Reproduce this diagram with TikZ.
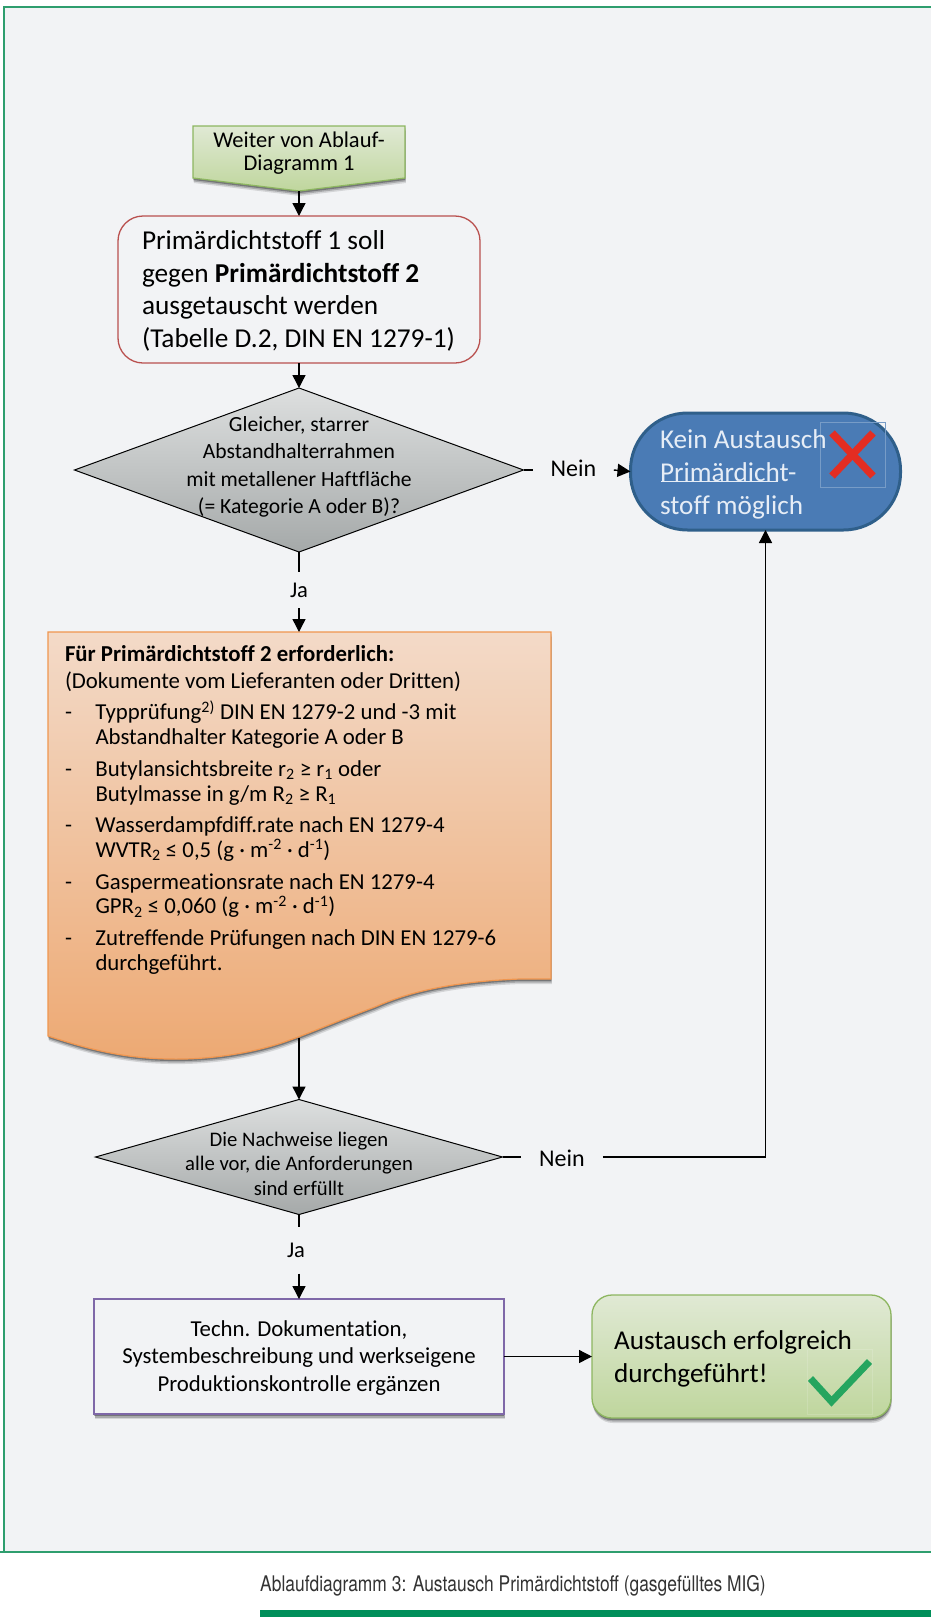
\documentclass[tikz,border=0pt]{standalone}
\usepackage{fontspec}
\setmainfont[Ligatures=NoCommon]{Carlito}
\newfontfamily\captionfont[FakeStretch=0.81]{TeX Gyre Heros}
\usetikzlibrary{arrows.meta,shapes.geometric,shadows}
\definecolor{panel}{HTML}{F2F3F5}
\definecolor{frameG}{HTML}{2E9E6E}
\definecolor{barG}{HTML}{008F5A}
\definecolor{blueF}{HTML}{4A7BB5}
\definecolor{blueD}{HTML}{2F5F8A}
\definecolor{blueT}{HTML}{E6EDF6}
\definecolor{redB}{HTML}{B9504E}
\definecolor{purpleB}{HTML}{7F68A8}
\definecolor{greenB}{HTML}{8DB660}
\definecolor{orangeB}{HTML}{F0964F}
\definecolor{gray1}{HTML}{DDDFDF}
\definecolor{gray2}{HTML}{A5A9A9}
\definecolor{greenT}{HTML}{E0E9D4}
\definecolor{greenM}{HTML}{BFD69D}
\definecolor{orangeT}{HTML}{F3DAC8}
\definecolor{orangeM}{HTML}{EDA973}
\tikzset{
  softshadow/.style={
    general shadow={fill=black,opacity=.12,shadow xshift=.8pt,shadow yshift=-5pt},
    general shadow={fill=black,opacity=.2,shadow xshift=.5pt,shadow yshift=-3.5pt},
    general shadow={fill=black,opacity=.3,shadow xshift=.3pt,shadow yshift=-2pt}},
  conn/.style={line width=1.4pt,black},
  arrowconn/.style={conn,-{Triangle[length=13pt,width=13pt]}},
  decision/.style={diamond,draw=black,line width=1pt,top color=gray1,bottom color=gray2,inner sep=0pt,outer sep=0pt,aspect=2.7},
  label/.style={inner sep=0pt,outer sep=0pt,align=center,text=black},
}
\begin{document}
\begin{tikzpicture}[x=1pt,y=-1pt]
\useasboundingbox (0,0) rectangle (931,1617);
\fill[white] (0,0) rectangle (931,1617);
% panel
\fill[panel] (4,7) rectangle (931,1552);
\draw[frameG,line width=1.2pt] (931,7) -- (4,7) -- (4,1552);
\draw[frameG,line width=1.4pt] (0,1552) -- (931,1552);
% caption
\node[anchor=west,inner sep=0pt,text=black!80] (cap) at (260,1586) {\captionfont\fontsize{21.5}{24}\selectfont Ablaufdiagramm 3: Austausch Primärdichtstoff (gasgefülltes MIG)};
\fill[barG] (260,1610) rectangle (931,1617);
% start
\path[softshadow,draw=greenB,line width=1.2pt,top color=greenT,bottom color=greenM]
  (193,126) -- (405,126) -- (405,178) -- (299,191) -- (193,178) -- cycle;
\coordinate (startTip) at (299,191);
\node[label,font=\fontsize{22.5}{23}\selectfont] (start) at (299,153.5) {Weiter von Ablauf-\\Diagramm 1};
% red box
\node[draw=redB,line width=1.3pt,rectangle,rounded corners=25pt,minimum width=362pt,minimum height=147pt,inner sep=0pt,outer sep=0pt] (pri) at (299,289.5) {};
\node[label,font=\fontsize{27.3}{32.5}\selectfont,align=left,anchor=west] (pritext) at (142,291) {Primärdichtstoff 1 soll\\gegen \textbf{Primärdichtstoff 2}\\ausgetauscht werden\\(Tabelle D.2, DIN EN 1279-1)};
\draw[arrowconn] (startTip) -- (pri.north);
% decision 1
\node[decision,minimum width=449pt,minimum height=164pt] (d1) at (299,470) {};
\node[label,font=\fontsize{21.6}{27.3}\selectfont] (d1text) at (299,467) {Gleicher, starrer\\Abstandhalterrahmen\\mit metallener Haftfläche\\(= Kategorie A oder B)?};
\draw[arrowconn] (pri.south) -- (d1.north);
% Nein 1
\node[label,font=\fontsize{24}{26}\selectfont,inner xsep=17.5pt,minimum height=24pt] (nein1) at (573.5,468) {Nein};
% blue terminator
\node[draw=blueD,line width=3pt,fill=blueF,rectangle,rounded corners=57pt,minimum width=270pt,minimum height=117pt,inner sep=0pt,outer sep=0pt] (kein) at (765.5,471.5) {};
\node[inner sep=0pt,outer sep=0pt,draw=white!25!blueF,line width=.5pt,minimum width=65pt,minimum height=65pt] (xbox) at (852.5,454.5) {};
\draw[line width=7.5pt,color={rgb,255:red,227;green,45;blue,34}] (xbox.center) ++(-20.5,-21.5) coordinate (xa) -- ++(41,43);
\draw[line width=7.5pt,color={rgb,255:red,227;green,45;blue,34}] (xbox.center) ++(20.5,-21.5) coordinate (xb) -- ++(-41,43);
\node[label,text=blueT,align=left,anchor=west,font=\fontsize{27.2}{33}\selectfont] (keintext) at (660,474) {Kein Austausch\\Primärdicht-\\stoff möglich};
\draw[blueT,line width=.7pt] (661,481) -- (778,481);
\draw[conn] (d1.east) -- (d1.east -| nein1.west);
\draw[arrowconn] (d1.east -| nein1.east) -- (kein.west);
% Ja 1
\node[label,font=\fontsize{22.5}{24}\selectfont,minimum height=36pt] (ja1) at (299,590) {Ja};
\draw[conn] (d1.south) -- (ja1.north);
% document
\path[softshadow,draw=orangeB,line width=1.2pt,top color=orangeT,bottom color=orangeM]
  (48,632) -- (551,632) -- (551,979) -- (520,979)
  .. controls (440,982) and (400,996) .. (375,1007)
  .. controls (340,1020) and (310,1033) .. (290,1040)
  .. controls (255,1053) and (210,1060) .. (168,1059)
  .. controls (120,1058) and (85,1048) .. (48,1036) -- cycle;
\coordinate (docTop) at (299,632);
\coordinate (docBot) at (299,1038);
\node[label,align=left,anchor=north west,font=\fontsize{22.8}{24.7}\selectfont] (doctext) at (65,645) {%
\textbf{Für Primärdichtstoff 2 erforderlich:}\\[2.5pt]
(Dokumente vom Lieferanten oder Dritten)\\[7pt]
\makebox[30.5pt][l]{-}Typprüfung\textsuperscript{2)} DIN EN 1279-2 und -3 mit\\
\hspace*{30.5pt}Abstandhalter Kategorie A oder B\\[7pt]
\makebox[30.5pt][l]{-}Butylansichtsbreite r\textsubscript{2} ≥ r\textsubscript{1} oder\\
\hspace*{30.5pt}Butylmasse in g/m R\textsubscript{2} ≥ R\textsubscript{1}\\[7pt]
\makebox[30.5pt][l]{-}Wasserdampfdiff.rate nach EN 1279-4\\
\hspace*{30.5pt}WVTR\textsubscript{2} ≤ 0,5 (g · m\textsuperscript{-2} · d\textsuperscript{-1})\\[7pt]
\makebox[30.5pt][l]{-}Gaspermeationsrate nach EN 1279-4\\
\hspace*{30.5pt}GPR\textsubscript{2} ≤ 0,060 (g · m\textsuperscript{-2} · d\textsuperscript{-1})\\[7pt]
\makebox[30.5pt][l]{-}Zutreffende Prüfungen nach DIN EN 1279-6\\
\hspace*{30.5pt}durchgeführt.};
\draw[arrowconn] (ja1.south) -- (docTop);
% decision 2
\node[decision,minimum width=407pt,minimum height=115pt] (d2) at (299,1157) {};
\node[label,font=\fontsize{20.7}{24.5}\selectfont] (d2text) at (299,1163.5) {Die Nachweise liegen\\alle vor, die Anforderungen\\sind erfüllt};
\draw[arrowconn] (docBot) -- (d2.north);
% Nein 2
\node[label,font=\fontsize{24}{26}\selectfont,inner xsep=18pt,minimum height=24pt] (nein2) at (562,1158) {Nein};
\draw[conn] (d2.east) -- (d2.east -| nein2.west);
\draw[arrowconn] (d2.east -| nein2.east) -| (kein.south);
% Ja 2
\node[label,font=\fontsize{22.5}{24}\selectfont,minimum height=47pt] (ja2) at (296,1250) {Ja};
\draw[conn] (d2.south) -- (d2.south |- ja2.north);
% process
\node[softshadow,draw=purpleB,line width=1.3pt,fill=panel,rectangle,minimum width=410pt,minimum height=115pt,inner sep=0pt,outer sep=0pt] (proc) at (299,1356.5) {};
\node[label,font=\fontsize{22.8}{27.3}\selectfont] (proctext) at (299,1358) {Techn. Dokumentation,\\Systembeschreibung und werkseigene\\Produktionskontrolle ergänzen};
\draw[arrowconn] (d2.south |- ja2.south) -- (proc.north);
% success
\node[softshadow,draw=greenB,line width=1.3pt,top color=greenT,bottom color=greenM,rectangle,rounded corners=20pt,minimum width=299pt,minimum height=123pt,inner sep=0pt,outer sep=0pt] (ok) at (741.5,1356.5) {};
\node[inner sep=0pt,outer sep=0pt,draw=white,draw opacity=.15,line width=.5pt,minimum width=65pt,minimum height=65pt] (checkbox) at (839.5,1381.5) {};
\node[label,align=left,anchor=west,font=\fontsize{27.2}{33}\selectfont] (oktext) at (614,1359) {Austausch erfolgreich\\durchgeführt!};
\draw[line width=7pt,color={rgb,255:red,37;green,165;blue,95}] (checkbox.center) ++(-29,-3) coordinate (c1) -- ++(21,23) coordinate (c2) -- ++(38,-40);
\draw[arrowconn] (proc.east) -- (ok.west);
\end{tikzpicture}
\end{document}
